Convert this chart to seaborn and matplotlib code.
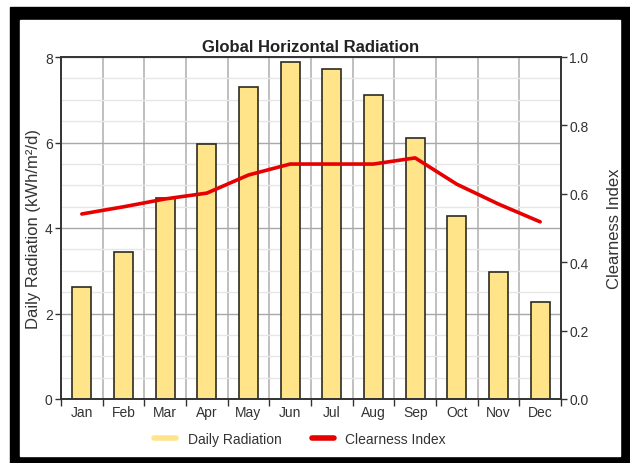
import numpy as np
import pandas as pd
import matplotlib
matplotlib.use("Agg")
import matplotlib.pyplot as plt
from matplotlib.patches import Rectangle
from matplotlib.lines import Line2D
import seaborn as sns

# monthly values
months = ['Jan', 'Feb', 'Mar', 'Apr', 'May', 'Jun', 'Jul', 'Aug', 'Sep', 'Oct', 'Nov', 'Dec']
daily_radiation = [2.61, 3.45, 4.71, 5.97, 7.29, 7.89, 7.72, 7.12, 6.11, 4.27, 2.97, 2.27]
clearness_index = [0.541, 0.562, 0.585, 0.602, 0.655, 0.687, 0.687, 0.687, 0.705, 0.628, 0.57, 0.518]

df = pd.DataFrame({'month': months, 'radiation': daily_radiation, 'clearness': clearness_index})

sns.set_theme(style='white')
plt.rcParams['font.family'] = ['Liberation Sans', 'DejaVu Sans']
txt = '#333333'

W, H = 630, 464
fig = plt.figure(figsize=(6.3, 4.64), dpi=100, facecolor='white')

# black frame around the chart
def px_rect(x0, y0, x1, y1, color):
    fig.patches.append(Rectangle((x0 / W, 1 - y1 / H), (x1 - x0) / W, (y1 - y0) / H,
                                 transform=fig.transFigure, color=color, zorder=-10))

px_rect(10, 8, 630, 464, 'black')
px_rect(20, 21, 620, 457, 'white')

ax = fig.add_axes([61 / W, 1 - 400 / H, 500 / W, 342 / H])
ax.set_facecolor('white')

sns.barplot(data=df, x='month', y='radiation', ax=ax, color='#FFE48A', width=0.46,
            edgecolor='#2b2b20', linewidth=1.2, saturation=1, zorder=3)

ax.set_xlim(-0.5, 11.5)
ax.set_ylim(0, 8)
ax.set_yticks([0, 2, 4, 6, 8])
ax.set_yticks(np.arange(0, 8.01, 0.5), minor=True)
ax.set_xticks(np.arange(-0.5, 12, 1), minor=True)
ax.grid(True, which='major', axis='y', color='#a8a8a8', linewidth=1.0, zorder=0)
ax.grid(True, which='minor', axis='y', color='#e6e6e6', linewidth=1.0, zorder=0)
ax.grid(True, which='minor', axis='x', color='#b4b4b4', linewidth=1.2, zorder=0)
ax.set_axisbelow(True)
ax.tick_params(axis='x', which='major', length=0, pad=4, labelsize=10, colors=txt)
ax.tick_params(axis='x', which='minor', length=5, width=1, color='#333333', direction='out', bottom=True)
ax.tick_params(axis='y', which='major', length=4, width=1, color='#333333', direction='out', left=True,
               labelsize=10, labelcolor=txt, pad=2)
ax.tick_params(axis='y', which='minor', length=0)
ax.set_xlabel('')
ax.set_ylabel('Daily Radiation (kWh/m²/d)', fontsize=12, color=txt, labelpad=3)
for s in ax.spines.values():
    s.set_color('#333333')
    s.set_linewidth(1.2)

ax2 = ax.twinx()
sns.lineplot(x=np.arange(len(months)), y=df['clearness'], ax=ax2, color='#E60000',
             linewidth=2.6, zorder=5)
ax2.set_ylim(0, 1)
ax2.set_yticks(np.arange(0, 1.01, 0.2))
ax2.yaxis.set_major_formatter(matplotlib.ticker.FormatStrFormatter('%.1f'))
ax2.tick_params(axis='y', length=4, width=1, color='#333333', direction='out', right=True,
                labelsize=10, labelcolor=txt, pad=2)
ax2.set_ylabel('Clearness Index', fontsize=12, color=txt, labelpad=13)
ax2.grid(False)
for s in ax2.spines.values():
    s.set_color('#333333')
    s.set_linewidth(1.2)

ax.set_title('Global Horizontal Radiation', fontsize=12, fontweight='bold', color='#222222', pad=4)

handles = [Line2D([], [], color='#FFE48A', linewidth=4),
           Line2D([], [], color='#E60000', linewidth=4)]
fig.legend(handles, ['Daily Radiation', 'Clearness Index'], loc='center',
           bbox_to_anchor=(300 / W, 1 - 440 / H), ncol=2, frameon=False, fontsize=10,
           handlelength=1.6, columnspacing=2.2, labelcolor=txt)

fig.savefig('out.png', dpi=100, facecolor='white')
